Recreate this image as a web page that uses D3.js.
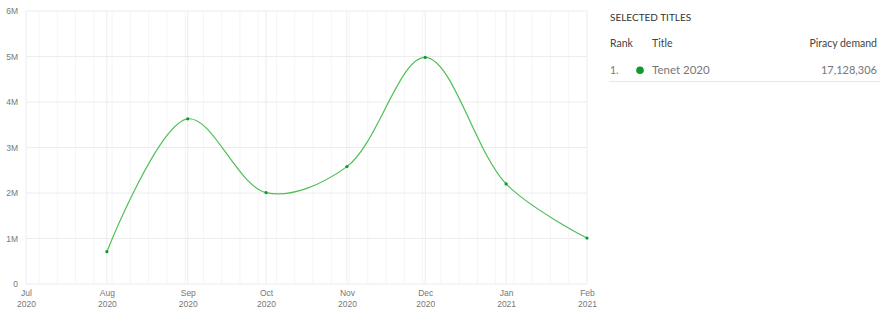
<!DOCTYPE html>
<html>
<head>
<meta charset="utf-8">
<script src="https://cdn.jsdelivr.net/npm/d3@7"></script>
<style>
  body { margin: 0; background: #fff; font-family: "Lato", "Open Sans", sans-serif; }
  .tick text { fill: #777; font-size: 8.5px; }
</style>
</head>
<body>
<div id="chart"></div>
<script>
const months = ["2020-08-01", "2020-09-01", "2020-10-01", "2020-11-01", "2020-12-01", "2021-01-01", "2021-02-01"];
const demand = [710000, 3630000, 2010000, 2580000, 4980000, 2200000, 1010000];
const yTicks = [0, 1e6, 2e6, 3e6, 4e6, 5e6, 6e6];
const titleRows = [{ rank: "1.", title: "Tenet 2020", value: 17128306 }];

const W = 888, H = 320;
const margin = { top: 11, right: 301, bottom: 36, left: 26 };
const width = W - margin.left - margin.right,
      height = H - margin.top - margin.bottom;

const parse = d3.timeParse("%Y-%m-%d");
const data = months.map((m, i) => ({ date: parse(m), value: demand[i] }));

const svg = d3.select("#chart").append("svg")
    .attr("width", W).attr("height", H);

const g = svg.append("g")
    .attr("transform", `translate(${margin.left},${margin.top})`);

const x = d3.scaleTime()
    .domain([parse("2020-07-01"), parse("2021-02-01")])
    .range([0, width]);

const y = d3.scaleLinear()
    .domain([0, 6e6])
    .range([height, 0]);

// weekly minor grid
g.append("g").selectAll("line")
    .data(d3.timeMonday.range(x.domain()[0], x.domain()[1]))
    .join("line")
    .attr("x1", d => x(d)).attr("x2", d => x(d))
    .attr("y1", 0).attr("y2", height)
    .attr("stroke", "#f5f5f5");

// monthly grid
g.append("g").selectAll("line")
    .data(d3.timeMonth.range(x.domain()[0], d3.timeDay.offset(x.domain()[1], 1)))
    .join("line")
    .attr("x1", d => x(d)).attr("x2", d => x(d))
    .attr("y1", 0).attr("y2", height)
    .attr("stroke", "#ececec");

// horizontal grid
g.append("g").selectAll("line")
    .data(yTicks)
    .join("line")
    .attr("x1", 0).attr("x2", width)
    .attr("y1", d => y(d)).attr("y2", d => y(d))
    .attr("stroke", "#ececec");

// y axis labels
const yAxis = g.append("g")
    .call(d3.axisLeft(y).tickValues(yTicks).tickSize(0).tickPadding(8)
        .tickFormat(d => d === 0 ? "0" : d / 1e6 + "M"));
yAxis.select(".domain").remove();

// x axis labels (two lines)
const xAxis = g.append("g")
    .attr("transform", `translate(0,${height})`)
    .call(d3.axisBottom(x).ticks(d3.timeMonth.every(1)).tickSize(0).tickFormat(""));
xAxis.select(".domain").remove();
xAxis.selectAll(".tick").each(function (d) {
    const t = d3.select(this).append("text")
        .attr("fill", "#777")
        .attr("font-size", "8.5px")
        .attr("text-anchor", "middle");
    t.append("tspan").attr("x", 0).attr("y", 12).text(d3.timeFormat("%b")(d));
    t.append("tspan").attr("x", 0).attr("y", 23).text(d3.timeFormat("%Y")(d));
});

// line
const line = d3.line()
    .x(d => x(d.date))
    .y(d => y(d.value))
    .curve(d3.curveCatmullRom);

g.append("path")
    .datum(data)
    .attr("d", line)
    .attr("fill", "none")
    .attr("stroke", "#4fbf55")
    .attr("stroke-width", 1.2);

g.selectAll("circle.pt")
    .data(data)
    .join("circle")
    .attr("class", "pt")
    .attr("cx", d => x(d.date))
    .attr("cy", d => y(d.value))
    .attr("r", 1.6)
    .attr("fill", "#0e9a2e");

// legend table
const lg = svg.append("g").attr("font-size", "10.5px");
lg.append("text")
    .attr("x", 610).attr("y", 21)
    .attr("fill", "#333")
    .attr("font-size", "10px")
    .text("SELECTED TITLES");

const hdr = lg.append("g").attr("fill", "#444");
hdr.append("text").attr("x", 610).attr("y", 47).text("Rank");
hdr.append("text").attr("x", 652).attr("y", 47).text("Title");
hdr.append("text").attr("x", 877).attr("y", 47).attr("text-anchor", "end").text("Piracy demand");

titleRows.forEach((r, i) => {
    const yy = 74 + i * 27;
    lg.append("text").attr("x", 610).attr("y", yy).attr("fill", "#777").text(r.rank);
    lg.append("circle").attr("cx", 640).attr("cy", yy - 3.8).attr("r", 3.8).attr("fill", "#0e9a2e");
    lg.append("text").attr("x", 652).attr("y", yy).attr("fill", "#777")
        .attr("font-size", "11.5px").text(r.title);
    lg.append("text").attr("x", 877).attr("y", yy).attr("text-anchor", "end")
        .attr("fill", "#777").attr("font-size", "11px").text(d3.format(",")(r.value));
    lg.append("line")
        .attr("x1", 609).attr("x2", 880)
        .attr("y1", yy + 7.5).attr("y2", yy + 7.5)
        .attr("stroke", "#e8e8e8");
});
</script>
</body>
</html>
